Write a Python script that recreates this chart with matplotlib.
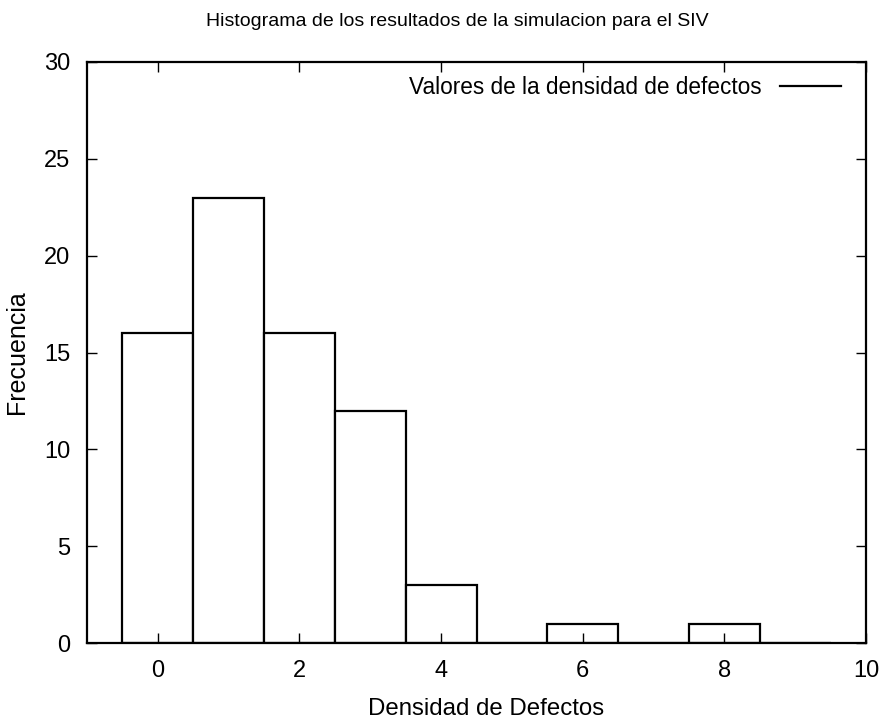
import matplotlib
matplotlib.use("Agg")
import matplotlib.pyplot as plt
from matplotlib.lines import Line2D

plt.rcParams['font.family'] = ['Liberation Sans', 'DejaVu Sans']

# densidad de defectos (centro de cada barra) y su frecuencia
densidad = [0, 1, 2, 3, 4, 5, 6, 7, 8, 9]
frecuencia = [16, 23, 16, 12, 3, 0, 1, 0, 1, 0]

x_ticks = [0, 2, 4, 6, 8, 10]
y_ticks = [0, 5, 10, 15, 20, 25, 30]

fig = plt.figure(figsize=(8.82, 7.24), dpi=100)
ax = fig.add_axes([87 / 882, 81 / 724, 779 / 882, 581 / 724])

ax.bar(densidad, frecuencia, width=1.0, facecolor='white', edgecolor='black', linewidth=1.6)

ax.set_xlim(-1, 10)
ax.set_ylim(0, 30)
ax.set_xticks(x_ticks)
ax.set_yticks(y_ticks)
ax.tick_params(direction='in', length=7, width=1, top=True, right=True, labelsize=17, pad=12)
for s in ax.spines.values():
    s.set_linewidth(1.6)

fig.text(457 / 882, 1 - 22 / 724, 'Histograma de los resultados de la simulacion para el SIV',
         ha='center', va='center', fontsize=14)
ax.set_xlabel('Densidad de Defectos', fontsize=17.3)
ax.xaxis.set_label_coords(0.512, -0.095)
ax.set_ylabel('Frecuencia', fontsize=18)
ax.yaxis.set_label_coords(-0.074, 0.5)

proxy = Line2D([], [], color='black', linewidth=1.6)
ax.legend([proxy], ['Valores de la densidad de defectos'], loc='upper right', frameon=False,
          markerfirst=False, fontsize=16.3, handlelength=2.7, handletextpad=0.8,
          borderaxespad=0.1, bbox_to_anchor=(0.982, 0.995))

fig.savefig('out.png', dpi=100)
